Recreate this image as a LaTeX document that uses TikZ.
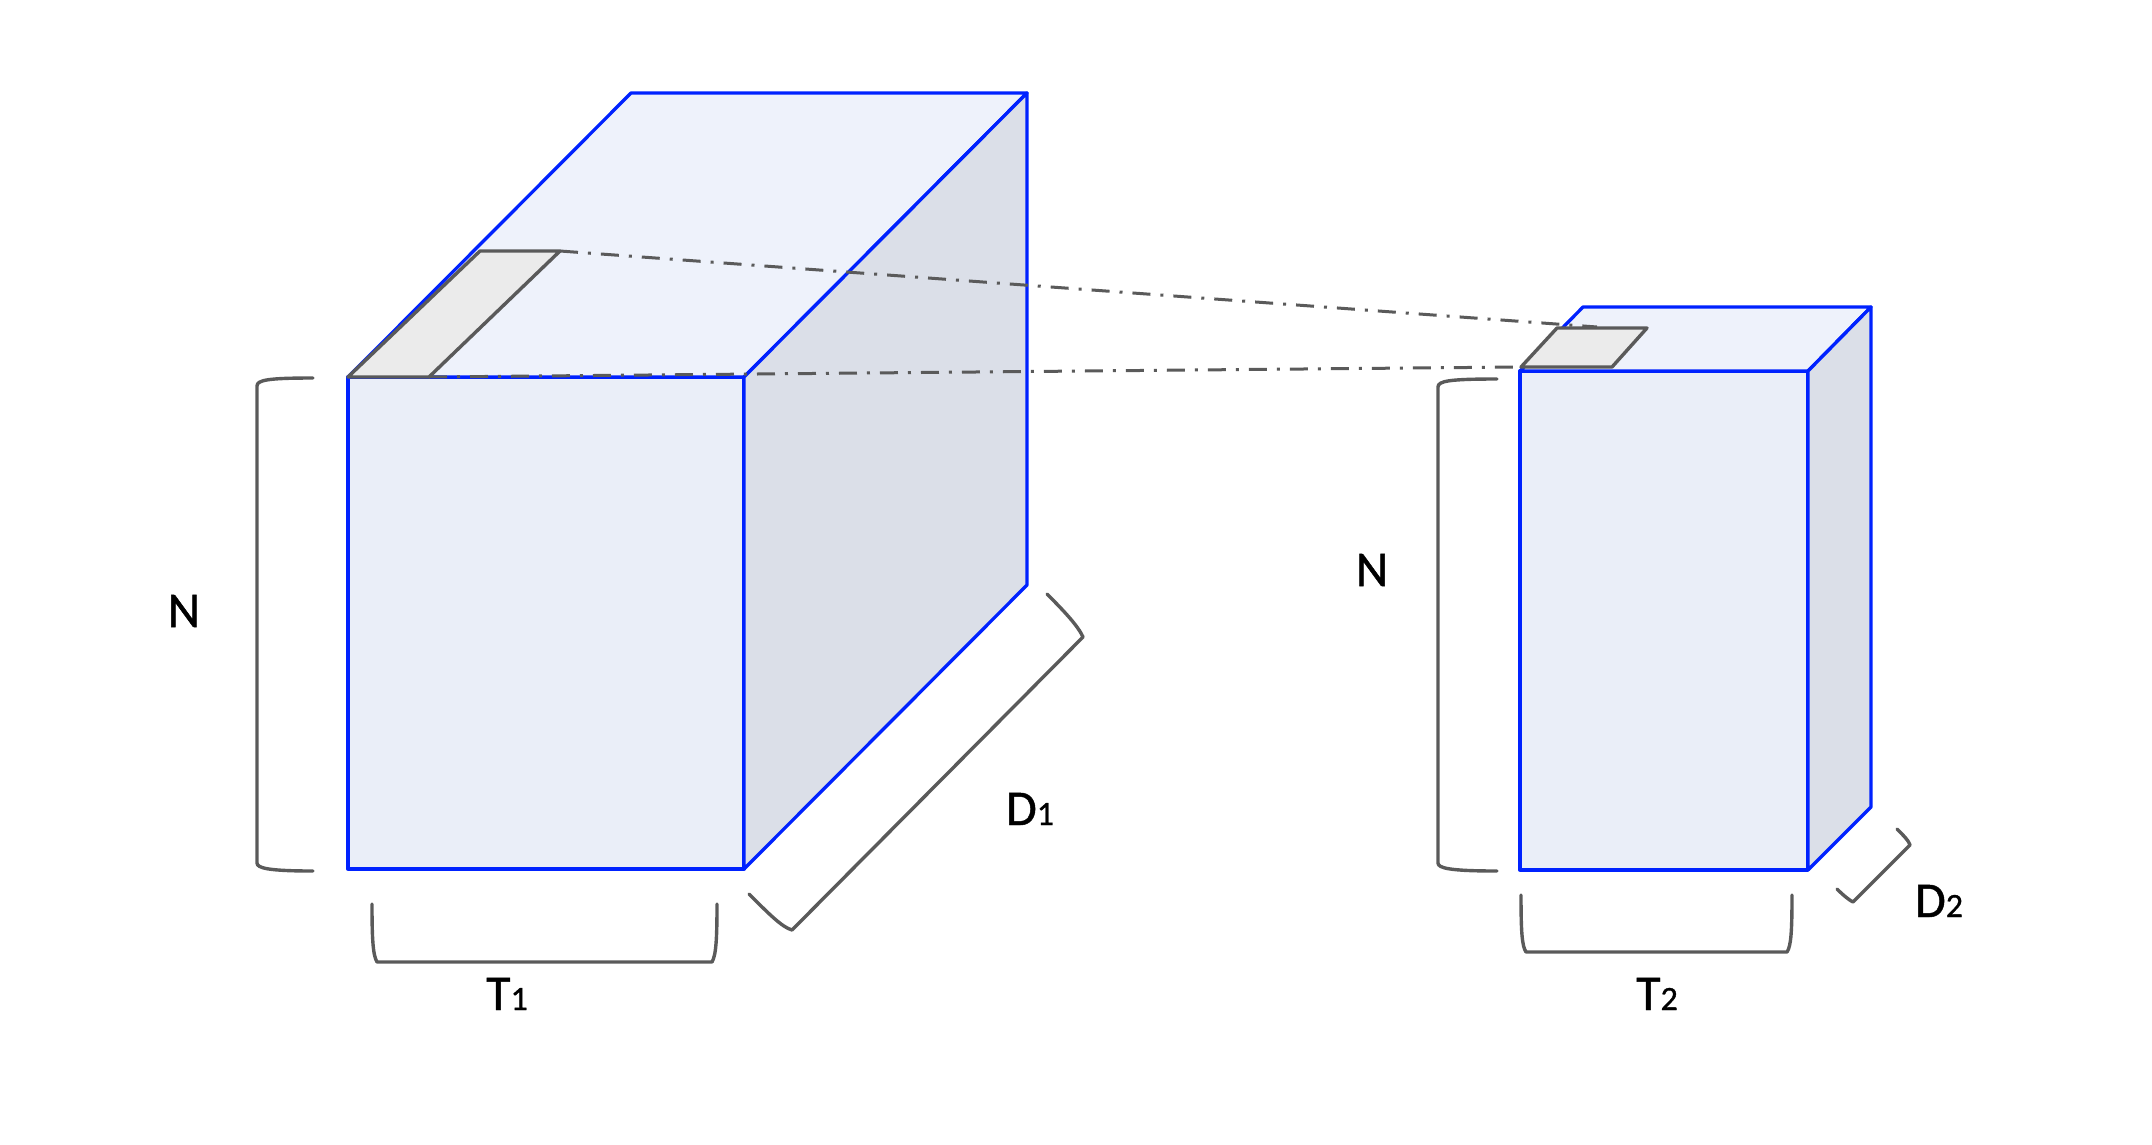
\documentclass[tikz,border=0pt]{standalone}
\usepackage{fontspec}
\setmainfont{Carlito}
\newfontfamily\lblfont[FakeBold=0.9]{Carlito}
\definecolor{edgeblue}{RGB}{0,34,255}
\definecolor{frontfill}{RGB}{234,238,248}
\definecolor{topfill}{RGB}{238,242,251}
\definecolor{sidefill}{RGB}{219,223,232}
\definecolor{graystroke}{RGB}{90,90,90}
\definecolor{patchfill}{RGB}{235,235,235}
\newcommand{\sdig}[1]{{\fontsize{34}{40}\selectfont #1}}
\tikzset{
  boxface/.style={draw=edgeblue,line width=3.3pt,line join=round},
  patch/.style={draw=graystroke,fill=patchfill,line width=3.4pt,line join=round},
  linkline/.style={draw=graystroke,line width=3pt,dash pattern=on 18pt off 10pt on 3pt off 10pt},
  bracket/.style={draw=graystroke,line width=3.4pt,line join=round,line cap=round},
  lbl/.style={font=\lblfont\fontsize{50}{60}\selectfont,text=black,inner sep=0pt}
}
\begin{document}
\begin{tikzpicture}[x=1pt,y=-1pt]
\useasboundingbox (0,0) rectangle (2152,1144);
% big box
\coordinate (A1) at (348,377);
\coordinate (B1) at (744,377);
\coordinate (C1) at (744,869);
\coordinate (D1) at (348,869);
\coordinate (E1) at (631,93);
\coordinate (F1) at (1027,93);
\coordinate (G1) at (1027,585);
\path[boxface,fill=frontfill] (A1) -- (B1) -- (C1) -- (D1) -- cycle;
\path[boxface,fill=topfill] (A1) -- (E1) -- (F1) -- (B1) -- cycle;
\path[boxface,fill=sidefill] (B1) -- (F1) -- (G1) -- (C1) -- cycle;
% small box
\coordinate (A2) at (1520,371);
\coordinate (B2) at (1808,371);
\coordinate (C2) at (1808,870);
\coordinate (D2) at (1520,870);
\coordinate (E2) at (1583,307);
\coordinate (F2) at (1871,307);
\coordinate (G2) at (1871,807);
\path[boxface,fill=frontfill] (A2) -- (B2) -- (C2) -- (D2) -- cycle;
\path[boxface,fill=topfill] (A2) -- (E2) -- (F2) -- (B2) -- cycle;
\path[boxface,fill=sidefill] (B2) -- (F2) -- (G2) -- (C2) -- cycle;
% patches
\coordinate (p1a) at (348,377);
\coordinate (p1b) at (429,377);
\coordinate (p1c) at (560,251);
\coordinate (p1d) at (480,251);
\coordinate (p2a) at (1521,367);
\coordinate (p2b) at (1612,367);
\coordinate (p2c) at (1647,328);
\coordinate (p2d) at (1557,328);
\coordinate (p2t) at (1597,327);
% link lines
\draw[linkline] (p1c) -- (p2t);
\draw[linkline] (p1b) -- (p2a);
\path[patch] (p1a) -- (p1b) -- (p1c) -- (p1d) -- cycle;
\path[patch] (p2a) -- (p2b) -- (p2c) -- (p2d) -- cycle;
% brackets
\draw[bracket] (313,378) .. controls (268,378) and (257,380) .. (257,386) -- (257,863) .. controls (257,868) and (268,871) .. (313,871);
\draw[bracket] (1497,379) .. controls (1449,379) and (1438,381) .. (1438,387) -- (1438,863) .. controls (1438,868) and (1449,871) .. (1497,871);
\draw[bracket] (372,904) .. controls (372,940) and (373,955) .. (377,962) -- (712,962) .. controls (716,955) and (717,940) .. (717,904);
\draw[bracket] (1521,895) .. controls (1521,932) and (1522,946) .. (1526,952) -- (1787,952) .. controls (1791,946) and (1792,932) .. (1792,895);
\draw[bracket] (1047,594) .. controls (1065,612) and (1078,626) .. (1083,637) -- (792,930) .. controls (782,927) and (770,915) .. (749,894);
\draw[bracket] (1897,829) .. controls (1903,835) and (1909,841) .. (1910,845) -- (1853,902) .. controls (1849,900) and (1843,895) .. (1837,889);
% labels
\node[lbl] (n1) at (184,611) {N};
\node[lbl] (n2) at (1372,570) {N};
\node[lbl,anchor=base] (t1) at (507,1010) {T\sdig{1}};
\node[lbl,anchor=base] (t2) at (1657,1010) {T\sdig{2}};
\node[lbl,anchor=base] (d1) at (1030,825) {D\sdig{1}};
\node[lbl,anchor=base] (d2) at (1939,917) {D\sdig{2}};
\end{tikzpicture}
\end{document}
